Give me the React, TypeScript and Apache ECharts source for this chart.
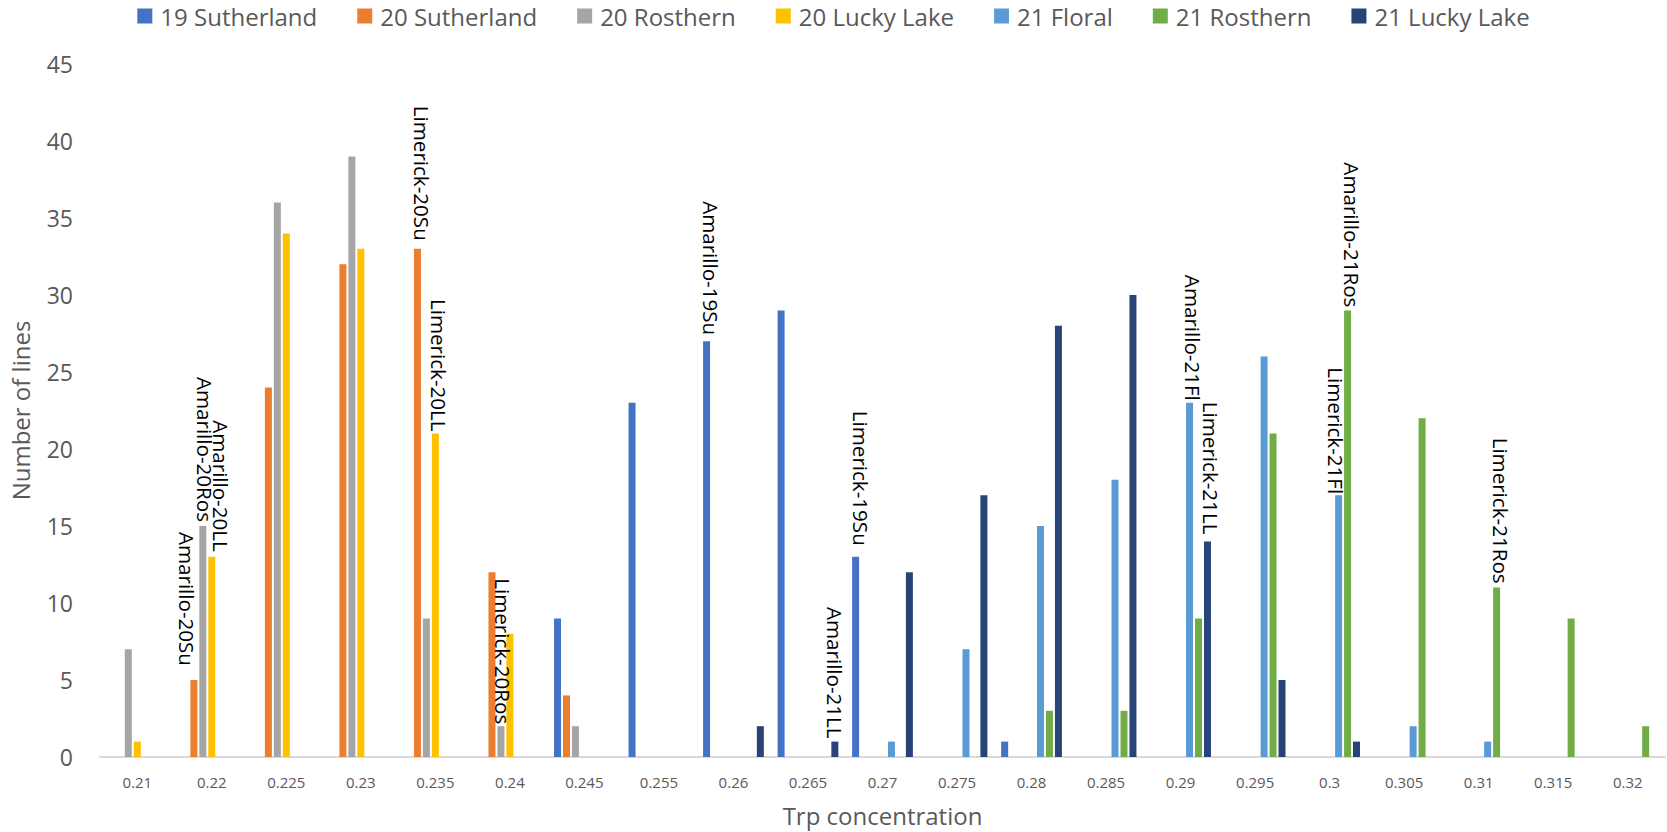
import React, { useEffect, useRef } from "react";
import * as echarts from "echarts";

const categories = [
  "0.21", "0.22", "0.225", "0.23", "0.235", "0.24", "0.245", "0.255", "0.26", "0.265", "0.27",
  "0.275", "0.28", "0.285", "0.29", "0.295", "0.3", "0.305", "0.31", "0.315", "0.32",
];

const seriesNames = [
  "19 Sutherland", "20 Sutherland", "20 Rosthern", "20 Lucky Lake",
  "21 Floral", "21 Rosthern", "21 Lucky Lake",
];

const sutherland19 = [0, 0, 0, 0, 0, 0, 9, 23, 27, 29, 13, 0, 1, 0, 0, 0, 0, 0, 0, 0, 0];
const sutherland20 = [0, 5, 24, 32, 33, 12, 4, 0, 0, 0, 0, 0, 0, 0, 0, 0, 0, 0, 0, 0, 0];
const rosthern20 = [7, 15, 36, 39, 9, 2, 2, 0, 0, 0, 0, 0, 0, 0, 0, 0, 0, 0, 0, 0, 0];
const luckyLake20 = [1, 13, 34, 33, 21, 8, 0, 0, 0, 0, 0, 0, 0, 0, 0, 0, 0, 0, 0, 0, 0];
const floral21 = [0, 0, 0, 0, 0, 0, 0, 0, 0, 0, 1, 7, 15, 18, 23, 26, 17, 2, 1, 0, 0];
const rosthern21 = [0, 0, 0, 0, 0, 0, 0, 0, 0, 0, 0, 0, 3, 3, 9, 21, 29, 22, 11, 9, 2];
const luckyLake21 = [0, 0, 0, 0, 0, 0, 0, 0, 2, 1, 12, 17, 28, 30, 14, 5, 1, 0, 0, 0, 0];

const seriesValues = [
  sutherland19, sutherland20, rosthern20, luckyLake20, floral21, rosthern21, luckyLake21,
];

// annotation: [series index, category, text]
const annotations: [number, string, string][] = [
  [1, "0.22", "Amarillo-20Su"],
  [2, "0.22", "Amarillo-20Ros"],
  [3, "0.22", "Amarillo-20LL"],
  [1, "0.235", "Limerick-20Su"],
  [3, "0.235", "Limerick-20LL"],
  [2, "0.24", "Limerick-20Ros"],
  [0, "0.26", "Amarillo-19Su"],
  [6, "0.265", "Amarillo-21LL"],
  [0, "0.27", "Limerick-19Su"],
  [4, "0.29", "Amarillo-21Fl"],
  [6, "0.29", "Limerick-21LL"],
  [4, "0.3", "Limerick-21Fl"],
  [5, "0.3", "Amarillo-21Ros"],
  [5, "0.31", "Limerick-21Ros"],
];

// label placement nudges (style): text -> [horizontal shift, gap above bar]
const labelNudges: Record<string, [number, number]> = {
  "Amarillo-20Su": [-7, 14],
  "Amarillo-20Ros": [2, 4],
  "Amarillo-20LL": [9.5, 5],
  "Limerick-20Su": [5, 8],
  "Limerick-20LL": [3.5, 2],
  "Limerick-20Ros": [2.5, 2],
  "Amarillo-19Su": [4, 6],
  "Amarillo-21LL": [0, 3],
  "Limerick-19Su": [5.5, 11],
  "Amarillo-21Fl": [3, 2],
  "Limerick-21LL": [3.5, 7],
  "Limerick-21Fl": [-3, 1],
  "Amarillo-21Ros": [4, 3],
  "Limerick-21Ros": [4, 4],
};

const colors = ["#4472C4", "#ED7D31", "#A5A5A5", "#FFC000", "#5B9BD5", "#70AD47", "#264478"];

const FONT = "'Open Sans', 'Noto Sans', sans-serif";

export default function App() {
  const ref = useRef<HTMLDivElement>(null);

  useEffect(() => {
    if (!ref.current) return;
    const chart = echarts.init(ref.current, undefined, { renderer: "svg" });

    const series = seriesNames.map((name, si) => ({
      name,
      type: "bar",
      barWidth: 7,
      barGap: "28%",
      itemStyle: { color: colors[si] },
      data: seriesValues[si].map((v, ci) => {
        const ann = annotations.find((a) => a[0] === si && a[1] === categories[ci]);
        if (!ann) return v;
        const nudge = labelNudges[ann[2]] || [0, 5];
        return {
          value: v,
          label: {
            show: true,
            formatter: ann[2],
            position: "top",
            rotate: -90,
            align: "right",
            verticalAlign: "middle",
            distance: nudge[1],
            // offset is applied in the rotated text frame: local y maps to screen -x
            offset: [0, -nudge[0]],
            color: "#000000",
            fontSize: 20.6,
            fontFamily: FONT,
          },
        };
      }),
    }));

    chart.setOption({
      animation: false,
      backgroundColor: "#ffffff",
      textStyle: { fontFamily: FONT },
      color: colors,
      legend: {
        top: 4,
        left: "center",
        padding: 0,
        icon: "rect",
        itemWidth: 15,
        itemHeight: 15,
        itemGap: 40,
        textStyle: {
          fontSize: 24,
          lineHeight: 20,
          color: "#595959",
          fontFamily: FONT,
          padding: [0, 0, 0, 3],
        },
        data: seriesNames,
      },
      grid: { left: 90, right: 2, top: 64, bottom: 75 },
      xAxis: {
        type: "category",
        data: categories,
        axisLine: { lineStyle: { color: "#D9D9D9", width: 2 } },
        axisTick: { show: false },
        axisLabel: { fontSize: 15, color: "#595959", margin: 17, interval: 0, fontFamily: FONT },
        name: "Trp concentration",
        nameLocation: "middle",
        nameGap: 46,
        nameTextStyle: { fontSize: 24, color: "#595959", fontFamily: FONT },
      },
      yAxis: {
        type: "value",
        min: 0,
        max: 45,
        interval: 5,
        splitLine: { show: false },
        axisLine: { show: false },
        axisTick: { show: false },
        axisLabel: { fontSize: 23, color: "#595959", margin: 27, fontFamily: FONT },
        name: "Number of lines",
        nameLocation: "middle",
        nameGap: 68,
        nameTextStyle: { fontSize: 24, color: "#595959", fontFamily: FONT },
      },
      series,
    });

    return () => chart.dispose();
  }, []);

  return (
    <div
      ref={ref}
      style={{ position: "fixed", left: 0, top: 0, width: 1667, height: 832, background: "#fff" }}
    />
  );
}
